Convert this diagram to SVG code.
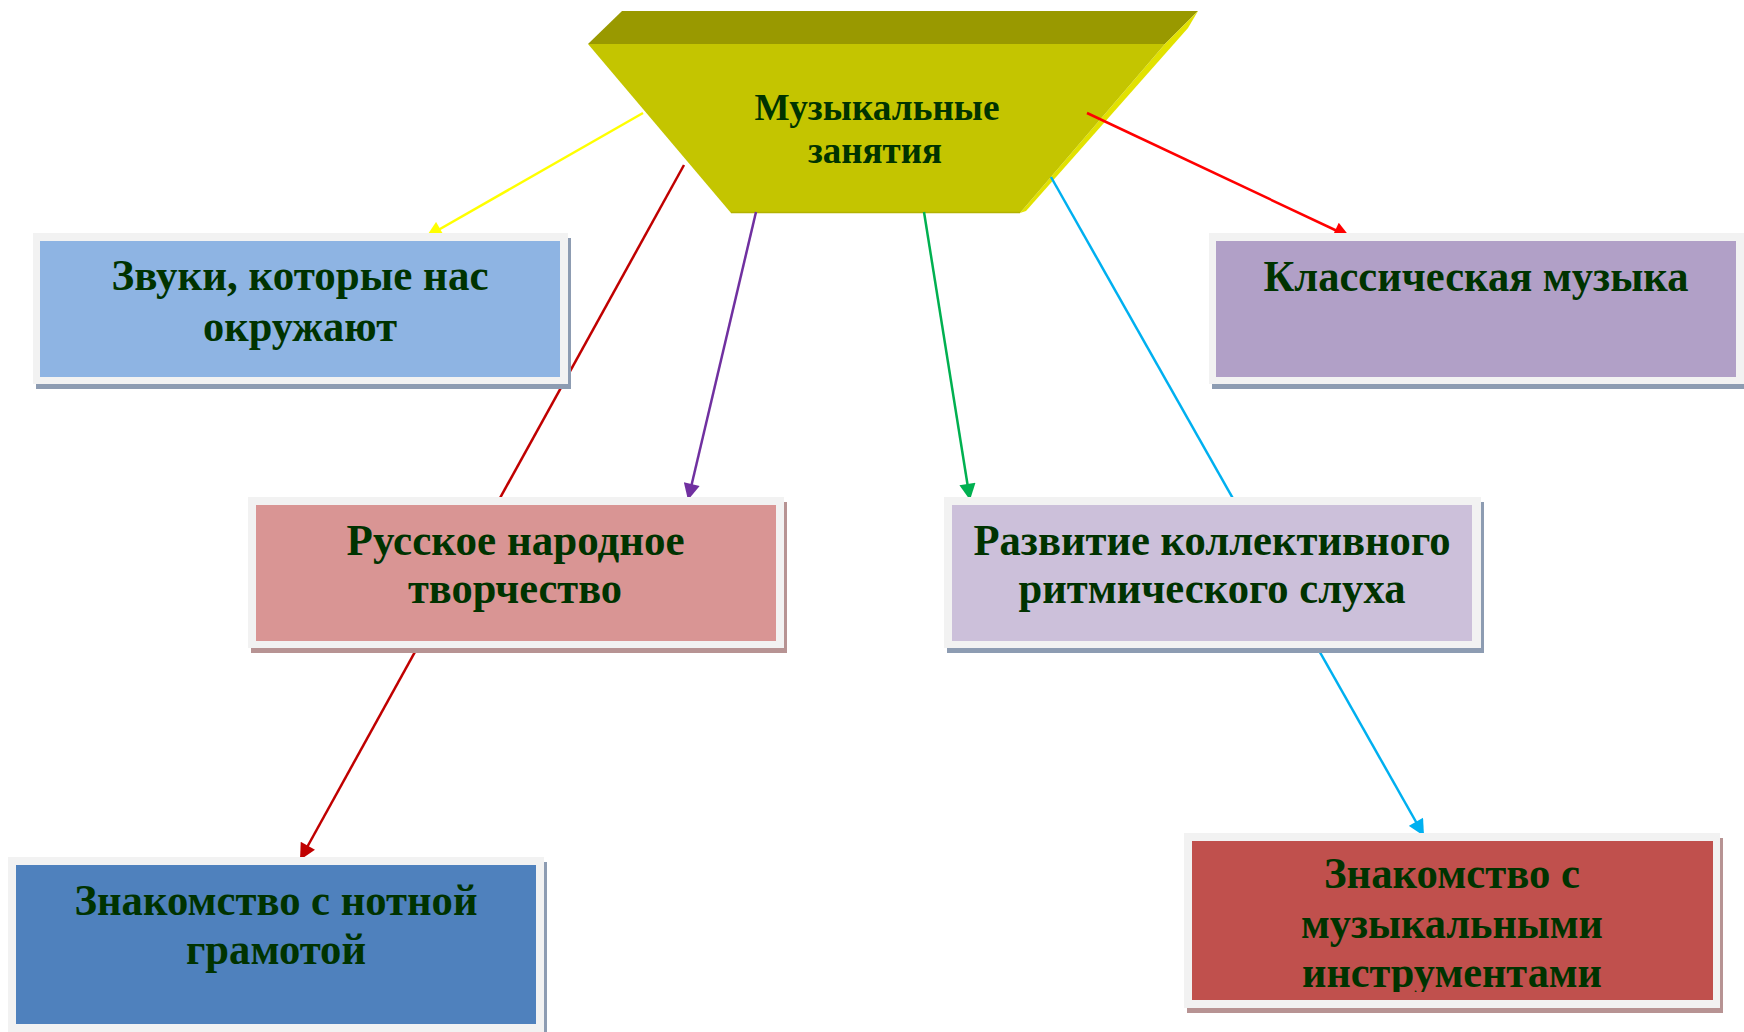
<svg xmlns="http://www.w3.org/2000/svg" width="1744" height="1032" viewBox="0 0 1744 1032">
<style>
.t{font-family:"Liberation Serif","Times New Roman",serif;font-weight:bold;font-size:45px;fill:#003300;text-anchor:middle}
.tc{font-size:38px}
.frame{fill:#F2F2F2}
.shb{fill:#8D9CB2}
.shr{fill:#B79393}
.c{fill:none;stroke-width:2.5}
</style>
<defs>
<marker id="mY" viewBox="0 0 10 10" refX="10" refY="5" markerWidth="7.5" markerHeight="6.5" markerUnits="strokeWidth" orient="auto"><path d="M0,0L10,5L0,10z" fill="#FFFF00"/></marker>
<marker id="mDR" viewBox="0 0 10 10" refX="10" refY="5" markerWidth="7.5" markerHeight="6.5" markerUnits="strokeWidth" orient="auto"><path d="M0,0L10,5L0,10z" fill="#C00000"/></marker>
<marker id="mP" viewBox="0 0 10 10" refX="10" refY="5" markerWidth="7.5" markerHeight="6.5" markerUnits="strokeWidth" orient="auto"><path d="M0,0L10,5L0,10z" fill="#7030A0"/></marker>
<marker id="mG" viewBox="0 0 10 10" refX="10" refY="5" markerWidth="7.5" markerHeight="6.5" markerUnits="strokeWidth" orient="auto"><path d="M0,0L10,5L0,10z" fill="#00B050"/></marker>
<marker id="mB" viewBox="0 0 10 10" refX="10" refY="5" markerWidth="7.5" markerHeight="6.5" markerUnits="strokeWidth" orient="auto"><path d="M0,0L10,5L0,10z" fill="#00B0F0"/></marker>
<marker id="mR" viewBox="0 0 10 10" refX="10" refY="5" markerWidth="7.5" markerHeight="6.5" markerUnits="strokeWidth" orient="auto"><path d="M0,0L10,5L0,10z" fill="#FF0000"/></marker>
<clipPath id="clipInstr"><rect x="1192" y="841" width="521" height="151"/></clipPath>
</defs>
<rect width="1744" height="1032" fill="#FFFFFF"/>

<g id="node-music">
<polygon points="622,11 1198,11 1165,44 588,44" fill="#999900"/>
<polygon points="1165,44 1198,11 1188,28 1026,211 1020,213" fill="#E2E200"/>
<polygon points="588,44 1165,44 1020,213 731,213" fill="#C4C500"/>
<line x1="731" y1="212.5" x2="1020" y2="212.5" stroke="#B2B200" stroke-width="1.5"/>
<text class="t tc" x="877" y="120" textLength="245" lengthAdjust="spacingAndGlyphs">Музыкальные</text>
<text class="t tc" x="875" y="163" textLength="134" lengthAdjust="spacingAndGlyphs">занятия</text>
</g>

<g id="connectors">
<line class="c" x1="643" y1="113" x2="426" y2="237" stroke="#FFFF00" marker-end="url(#mY)"/>
<line class="c" x1="684" y1="165" x2="300" y2="860" stroke="#C00000" marker-end="url(#mDR)"/>
<line class="c" x1="756" y1="212" x2="688" y2="500" stroke="#7030A0" marker-end="url(#mP)"/>
<line class="c" x1="924" y1="212" x2="970" y2="500" stroke="#00B050" marker-end="url(#mG)"/>
<line class="c" x1="1051" y1="177" x2="1424" y2="836" stroke="#00B0F0" marker-end="url(#mB)"/>
<line class="c" x1="1087" y1="113" x2="1350" y2="237" stroke="#FF0000" marker-end="url(#mR)"/>
</g>

<g id="node-sounds">
<rect class="shb" x="36" y="238" width="535" height="151"/>
<rect class="frame" x="33" y="233" width="535" height="151"/>
<rect x="40" y="241" width="520" height="136" fill="#8EB4E3"/>
<text class="t" x="300" y="290" textLength="377" lengthAdjust="spacingAndGlyphs">Звуки, которые нас</text>
<text class="t" x="300" y="341" textLength="194" lengthAdjust="spacingAndGlyphs">окружают</text>
</g>

<g id="node-classic">
<rect class="shb" x="1212" y="238" width="540" height="151"/>
<rect class="frame" x="1209" y="233" width="540" height="151"/>
<rect x="1216" y="241" width="520" height="136" fill="#B1A0C7"/>
<text class="t" x="1476" y="291" textLength="425" lengthAdjust="spacingAndGlyphs">Классическая музыка</text>
</g>

<g id="node-folk">
<rect class="shr" x="251" y="502" width="536" height="151"/>
<rect class="frame" x="248" y="497" width="536" height="151"/>
<rect x="256" y="505" width="520" height="136" fill="#D99594"/>
<text class="t" x="515.6" y="555" textLength="338" lengthAdjust="spacingAndGlyphs">Русское народное</text>
<text class="t" x="515" y="603" textLength="214" lengthAdjust="spacingAndGlyphs">творчество</text>
</g>

<g id="node-rhythm">
<rect class="shb" x="947" y="502" width="537" height="151"/>
<rect class="frame" x="944" y="497" width="537" height="151"/>
<rect x="952" y="505" width="520" height="136" fill="#CCC0DA"/>
<text class="t" x="1212" y="555" textLength="477" lengthAdjust="spacingAndGlyphs">Развитие коллективного</text>
<text class="t" x="1212" y="603" textLength="387" lengthAdjust="spacingAndGlyphs">ритмического слуха</text>
</g>

<g id="node-notation">
<rect class="shb" x="11" y="862" width="536" height="180"/>
<rect class="frame" x="8" y="857" width="536" height="180"/>
<rect x="16" y="865" width="520" height="159" fill="#4F81BD"/>
<text class="t" x="276" y="915" textLength="403" lengthAdjust="spacingAndGlyphs">Знакомство с нотной</text>
<text class="t" x="276" y="964" textLength="180" lengthAdjust="spacingAndGlyphs">грамотой</text>
</g>

<g id="node-instruments">
<rect class="shr" x="1187" y="838" width="536" height="175"/>
<rect class="frame" x="1184" y="833" width="536" height="175"/>
<rect x="1192" y="841" width="521" height="159" fill="#C0504D"/>
<g clip-path="url(#clipInstr)">
<text class="t" x="1452" y="888" textLength="256" lengthAdjust="spacingAndGlyphs">Знакомство с</text>
<text class="t" x="1452" y="938" textLength="302" lengthAdjust="spacingAndGlyphs">музыкальными</text>
<text class="t" x="1452" y="987" textLength="300" lengthAdjust="spacingAndGlyphs">инструментами</text>
</g>
</g>
</svg>
